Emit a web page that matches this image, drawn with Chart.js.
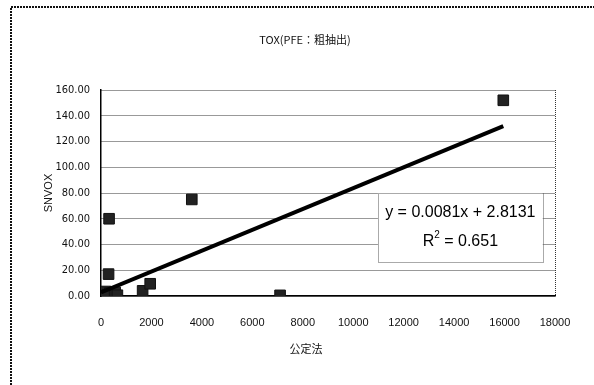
<!DOCTYPE html>
<html>
<head>
<meta charset="utf-8">
<title>TOX(PFE：粗抽出)</title>
<script src="https://cdn.jsdelivr.net/npm/chart.js@4"></script>
<style>
  html, body { margin: 0; padding: 0; background: #fff; }
  #wrap { position: relative; width: 594px; height: 385px; }
</style>
</head>
<body>
<div id="wrap"><canvas id="toxChart"></canvas></div>
<script>
// measured samples: 公定法 (x) vs SNVOX (y)
const kouteiValues = [15950, 3600, 7100, 320, 300, 1650, 1950, 60, 180, 250, 350, 450, 560, 650, 120];
const snvoxValues  = [152, 75, 0.5, 60, 17, 4, 9.5, 1.5, 3.5, 0.8, 2.2, 1.0, 2.8, 0.6, 0.3];

// linear fit shown in the label box
const fitSlope = 0.0081;
const fitIntercept = 2.8131;
const fitR2 = 0.651;

const xTicks = [0, 2000, 4000, 6000, 8000, 10000, 12000, 14000, 16000, 18000];
const yTicks = [0, 20, 40, 60, 80, 100, 120, 140, 160];

const chartTitle = 'TOX(PFE：粗抽出)';
const xTitle = '公定法';
const yTitle = 'SNVOX';

const points = kouteiValues.map((x, i) => ({ x: x, y: snvoxValues[i] }));
const xMin = Math.min(...kouteiValues), xMax = Math.max(...kouteiValues);
const fitLine = [xMin > 0 ? 0 : xMin, xMax].map(x => ({ x: x, y: fitSlope * x + fitIntercept }));

const FONT = '"Liberation Sans", Arial, sans-serif';
const NARROW = '"Liberation Sans Narrow", "DejaVu Sans Condensed", "Liberation Sans", sans-serif';
const CJK = '"Noto Sans CJK JP", "Liberation Sans", sans-serif';

// page frame, plot right edge, titles and the equation box
const decorations = {
  id: 'decorations',
  beforeDraw(chart) {
    const ctx = chart.ctx;
    const a = chart.chartArea;
    ctx.save();
    ctx.strokeStyle = '#111';
    ctx.lineWidth = 2;
    ctx.setLineDash([2, 1]);
    ctx.beginPath();
    ctx.moveTo(11, chart.height);
    ctx.lineTo(11, 7);
    ctx.lineTo(chart.width, 7);
    ctx.stroke();

    ctx.lineWidth = 1;
    ctx.strokeStyle = '#333';
    ctx.setLineDash([1, 1]);
    ctx.beginPath();
    ctx.moveTo(a.right + 0.5, a.top);
    ctx.lineTo(a.right + 0.5, a.bottom);
    ctx.stroke();
    ctx.restore();
  },
  afterDatasetsDraw(chart) {
    const ctx = chart.ctx;
    const a = chart.chartArea;
    const w = a.right - a.left, h = a.bottom - a.top;
    ctx.save();
    ctx.fillStyle = '#111';
    ctx.textAlign = 'center';
    ctx.textBaseline = 'middle';
    ctx.font = '11px ' + CJK;
    ctx.fillText(chartTitle, 305, 40);
    ctx.fillText(xTitle, 306, 349);

    // regression label
    const bx = a.left + w * 0.61, by = a.top + h * 0.5;
    const bw = w * 0.363, bh = h * 0.335;
    ctx.fillStyle = '#fff';
    ctx.fillRect(bx, by, bw, bh);
    ctx.strokeStyle = '#555';
    ctx.lineWidth = 1;
    ctx.setLineDash([1, 1]);
    ctx.strokeRect(Math.round(bx) + 0.5, Math.round(by) + 0.5, Math.round(bw), Math.round(bh));
    ctx.setLineDash([]);
    ctx.fillStyle = '#000';
    ctx.font = '16px ' + FONT;
    const cx = bx + bw / 2;
    ctx.fillText('y = ' + fitSlope + 'x + ' + fitIntercept, cx, by + bh * 0.28);
    const r2 = ' = ' + fitR2;
    const rW = ctx.measureText('R').width, tW = ctx.measureText(r2).width;
    ctx.font = '10px ' + FONT;
    const sW = ctx.measureText('2').width;
    let sx = cx - (rW + sW + tW) / 2;
    const ly = by + bh * 0.7;
    ctx.textAlign = 'left';
    ctx.font = '16px ' + FONT;
    ctx.fillText('R', sx, ly);
    ctx.font = '10px ' + FONT;
    ctx.fillText('2', sx + rW, ly - 6);
    ctx.font = '16px ' + FONT;
    ctx.fillText(r2, sx + rW + sW, ly);
    ctx.restore();
  }
};

new Chart(document.getElementById('toxChart'), {
  type: 'scatter',
  data: {
    datasets: [
      {
        type: 'line',
        label: 'fit',
        data: fitLine,
        borderColor: '#000',
        borderWidth: 4,
        pointRadius: 0,
        fill: false,
        order: 0
      },
      {
        label: yTitle,
        data: points,
        pointStyle: 'rect',
        pointRadius: 7.5,
        pointBackgroundColor: '#222',
        pointBorderColor: '#111',
        pointBorderWidth: 1,
        order: 1
      }
    ]
  },
  options: {
    responsive: true,
    maintainAspectRatio: false,
    animation: false,
    layout: { padding: { top: 90, right: 39, left: 0, bottom: 0 } },
    plugins: {
      legend: { display: false },
      tooltip: { enabled: false }
    },
    scales: {
      x: {
        type: 'linear',
        min: xTicks[0],
        max: xTicks[xTicks.length - 1],
        afterBuildTicks: s => { s.ticks = xTicks.map(v => ({ value: v })); },
        afterFit: s => { s.height = 89; },
        grid: { display: false },
        border: { display: true, color: '#000', width: 1.5 },
        ticks: {
          padding: 12,
          color: '#111',
          font: { family: FONT, size: 11 },
          callback: v => String(v)
        }
      },
      y: {
        min: yTicks[0],
        max: yTicks[yTicks.length - 1],
        afterBuildTicks: s => { s.ticks = yTicks.map(v => ({ value: v })); },
        afterFit: s => { s.width = 101; },
        grid: { color: '#333', lineWidth: 1, drawTicks: false },
        border: { display: true, color: '#000', width: 1.5, dash: [1, 1] },
        ticks: {
          padding: 11,
          color: '#111',
          font: { family: NARROW, size: 11 },
          callback: v => Number(v).toFixed(2)
        },
        title: {
          display: true,
          text: yTitle,
          color: '#111',
          font: { family: FONT, size: 11 },
          padding: { top: 42, bottom: 0 }
        }
      }
    }
  },
  plugins: [decorations]
});
</script>
</body>
</html>
